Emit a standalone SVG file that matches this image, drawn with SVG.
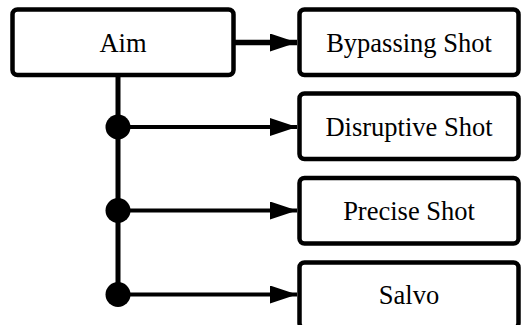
<svg xmlns="http://www.w3.org/2000/svg" width="522" height="325" viewBox="0 0 522 325">
<style>
.box{fill:#fff;stroke:#000;stroke-width:4.5}
.lbl{font-family:"Liberation Serif","Times New Roman",serif;font-size:26.5px;fill:#000;text-anchor:middle;dominant-baseline:central}
.ln{stroke:#000;stroke-width:4;fill:none}
.main{stroke-width:5.5}
</style>
<defs>
<marker id="ah" viewBox="0 0 27 18" refX="27" refY="9" markerWidth="27" markerHeight="18" markerUnits="userSpaceOnUse" orient="auto">
<path d="M0,0 L27,9 L0,18 Z" fill="#000"/>
</marker>
</defs>
<g id="connectors">
<line class="ln main" x1="235" y1="42.5" x2="297" y2="42.5" marker-end="url(#ah)"/>
<line class="ln" x1="118" y1="77" x2="118" y2="294" style="stroke-width:5"/>
<line class="ln" x1="118" y1="127" x2="297" y2="127" marker-end="url(#ah)"/>
<line class="ln" x1="118" y1="210.5" x2="297" y2="210.5" marker-end="url(#ah)"/>
<line class="ln" x1="118" y1="294.5" x2="297" y2="294.5" marker-end="url(#ah)"/>
<circle cx="118" cy="127" r="12.5" fill="#000"/>
<circle cx="118" cy="210.5" r="12.5" fill="#000"/>
<circle cx="118" cy="294.5" r="12.5" fill="#000"/>
</g>
<g id="aim">
<rect class="box" x="12.5" y="9.5" width="221" height="65.5" rx="5"/>
<text class="lbl" x="123" y="43">Aim</text>
</g>
<g id="bypassing">
<rect class="box" x="299.5" y="9.5" width="219" height="65.5" rx="5"/>
<text class="lbl" x="409" y="43">Bypassing Shot</text>
</g>
<g id="disruptive">
<rect class="box" x="299.5" y="93.5" width="219" height="65.5" rx="5"/>
<text class="lbl" x="409" y="127">Disruptive Shot</text>
</g>
<g id="precise">
<rect class="box" x="299.5" y="178" width="219" height="65.5" rx="5"/>
<text class="lbl" x="409" y="211">Precise Shot</text>
</g>
<g id="salvo">
<rect class="box" x="299.5" y="262.5" width="219" height="65.5" rx="5"/>
<text class="lbl" x="409" y="295">Salvo</text>
</g>
</svg>
